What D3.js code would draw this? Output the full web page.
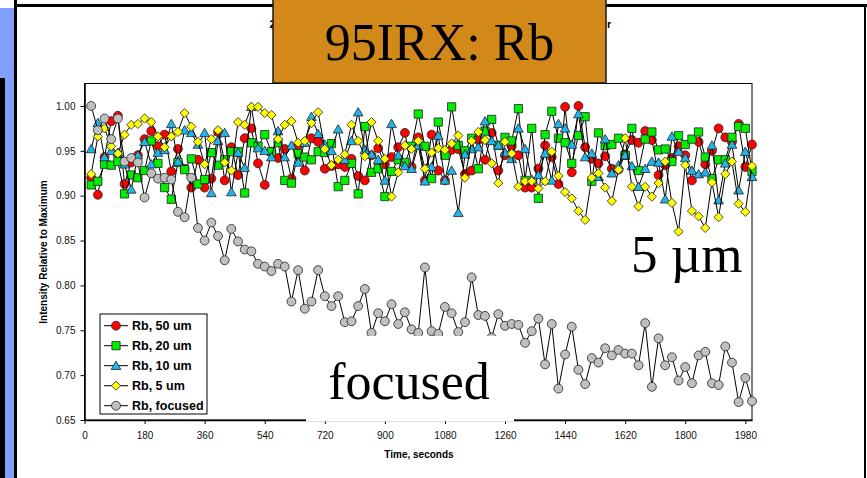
<!DOCTYPE html>
<html lang="en">
<head>
<meta charset="UTF-8">
<title>95IRX: Rb</title>
<script src="https://cdn.jsdelivr.net/npm/d3@7"></script>
<style>
    body { margin: 0; background: #fff; }
    svg { display: block; }
    .tick text { font-family: Arial, "Liberation Sans", sans-serif; font-size: 10px; fill: #111; }
</style>
</head>
<body>

<div id="chart"></div>

<script>

    // Sample times (seconds)
    var time = [
        20, 40, 60, 80, 100, 120, 140, 160, 180, 200,
        220, 240, 260, 280, 300, 320, 340, 360, 380, 400,
        420, 440, 460, 480, 500, 520, 540, 560, 580, 600,
        620, 640, 660, 680, 700, 720, 740, 760, 780, 800,
        820, 840, 860, 880, 900, 920, 940, 960, 980, 1000,
        1020, 1040, 1060, 1080, 1100, 1120, 1140, 1160, 1180, 1200,
        1220, 1240, 1260, 1280, 1300, 1320, 1340, 1360, 1380, 1400,
        1420, 1440, 1460, 1480, 1500, 1520, 1540, 1560, 1580, 1600,
        1620, 1640, 1660, 1680, 1700, 1720, 1740, 1760, 1780, 1800,
        1820, 1840, 1860, 1880, 1900, 1920, 1940, 1960, 1980, 2000
    ];

    // Rb, 50 um
    var rb50 = [
        0.920, 0.901, 0.943, 0.983, 0.989, 0.913, 0.937, 0.945, 0.963, 0.972,
        0.955, 0.968, 0.927, 0.952, 0.930, 0.909, 0.940, 0.909, 0.919, 0.971,
        0.917, 0.954, 0.923, 0.964, 0.975, 0.936, 0.912, 0.949, 0.942, 0.952,
        0.919, 0.956, 0.928, 0.964, 0.960, 0.930, 0.933, 0.935, 0.932, 0.941,
        0.922, 0.917, 0.945, 0.953, 0.935, 0.943, 0.954, 0.970, 0.932, 0.965,
        0.917, 0.968, 0.928, 0.917, 0.951, 0.952, 0.924, 0.928, 0.962, 0.940,
        0.970, 0.928, 0.945, 0.955, 0.945, 0.909, 0.909, 0.930, 0.956, 0.943,
        0.913, 0.999, 0.926, 1.000, 0.954, 0.941, 0.936, 0.944, 0.930, 0.929,
        0.946, 0.962, 0.959, 0.972, 0.962, 0.923, 0.934, 0.942, 0.955, 0.945,
        0.917, 0.960, 0.935, 0.950, 0.975, 0.965, 0.960, 0.980, 0.932, 0.957
    ];

    // Rb, 20 um
    var rb20 = [
        0.912, 0.916, 0.935, 0.934, 0.938, 0.902, 0.923, 0.920, 0.928, 0.961,
        0.936, 0.909, 0.896, 0.937, 0.929, 0.941, 0.913, 0.918, 0.948, 0.934,
        0.940, 0.949, 0.949, 0.903, 0.959, 0.955, 0.968, 0.949, 0.959, 0.917,
        0.914, 0.947, 0.943, 0.940, 0.949, 0.948, 0.958, 0.910, 0.917, 0.936,
        0.902, 0.977, 0.926, 0.930, 0.899, 0.927, 0.940, 0.937, 0.955, 0.991,
        0.955, 0.919, 0.982, 0.945, 0.999, 0.956, 0.950, 0.964, 0.930, 0.972,
        0.985, 0.956, 0.965, 0.961, 0.997, 0.917, 0.975, 0.897, 0.968, 0.994,
        0.964, 0.959, 0.936, 0.967, 0.988, 0.916, 0.970, 0.956, 0.957, 0.964,
        0.945, 0.975, 0.928, 0.963, 0.971, 0.951, 0.952, 0.938, 0.967, 0.957,
        0.963, 0.971, 0.943, 0.919, 0.940, 0.940, 0.965, 0.977, 0.975, 0.927
    ];

    // Rb, 10 um
    var rb10 = [
        0.952, 0.981, 0.943, 0.950, 0.948, 0.935, 0.907, 0.945, 0.960, 0.935,
        0.948, 0.951, 0.980, 0.938, 0.973, 0.970, 0.957, 0.970, 0.903, 0.961,
        0.970, 0.904, 0.948, 0.931, 0.999, 0.953, 0.950, 0.943, 0.972, 0.943,
        0.956, 0.937, 0.959, 0.988, 0.969, 0.957, 0.950, 0.974, 0.940, 0.961,
        0.993, 0.951, 0.946, 0.940, 0.917, 0.980, 0.945, 0.933, 0.930, 0.956,
        0.916, 0.932, 0.967, 0.917, 0.928, 0.881, 0.946, 0.952, 0.954, 0.983,
        0.961, 0.956, 0.948, 0.941, 0.975, 0.952, 0.918, 0.923, 0.947, 0.917,
        0.980, 0.975, 0.957, 0.991, 0.943, 0.947, 0.921, 0.963, 0.925, 0.934,
        0.945, 0.933, 0.910, 0.930, 0.938, 0.937, 0.896, 0.966, 0.949, 0.942,
        0.928, 0.924, 0.926, 0.956, 0.895, 0.936, 0.957, 0.906, 0.949, 0.921
    ];

    // Rb, 5 um
    var rb5 = [
        0.924, 0.966, 0.975, 0.955, 0.947, 0.968, 0.979, 0.980, 0.986, 0.982,
        0.966, 0.954, 0.966, 0.971, 0.992, 0.977, 0.960, 0.935, 0.963, 0.973,
        0.937, 0.928, 0.982, 0.979, 0.999, 0.999, 0.992, 0.990, 0.963, 0.979,
        0.983, 0.959, 0.961, 0.981, 0.993, 0.952, 0.934, 0.940, 0.946, 0.979,
        0.961, 0.944, 0.982, 0.961, 0.941, 0.899, 0.926, 0.956, 0.952, 0.961,
        0.930, 0.948, 0.953, 0.951, 0.958, 0.967, 0.920, 0.961, 0.971, 0.962,
        0.936, 0.914, 0.960, 0.947, 0.910, 0.916, 0.916, 0.908, 0.916, 0.949,
        0.922, 0.904, 0.897, 0.883, 0.873, 0.920, 0.925, 0.909, 0.894, 0.929,
        0.964, 0.910, 0.888, 0.910, 0.899, 0.914, 0.938, 0.892, 0.860, 0.934,
        0.883, 0.877, 0.864, 0.915, 0.876, 0.924, 0.938, 0.891, 0.882, 0.933
    ];

    // Rb, focused
    var rbFocused = [
        1.000, 0.973, 0.986, 0.963, 0.986, 0.938, 0.942, 0.937, 0.898, 0.925,
        0.919, 0.920, 0.918, 0.882, 0.876, 0.920, 0.864, 0.850, 0.870, 0.855,
        0.828, 0.863, 0.849, 0.840, 0.838, 0.824, 0.821, 0.816, 0.824, 0.821,
        0.782, 0.817, 0.774, 0.782, 0.817, 0.788, 0.777, 0.788, 0.759, 0.760,
        0.777, 0.796, 0.747, 0.769, 0.760, 0.779, 0.757, 0.770, 0.751, 0.747,
        0.820, 0.749, 0.746, 0.776, 0.769, 0.748, 0.759, 0.809, 0.767, 0.766,
        0.742, 0.768, 0.755, 0.757, 0.756, 0.736, 0.749, 0.763, 0.712, 0.757,
        0.685, 0.723, 0.754, 0.706, 0.690, 0.719, 0.714, 0.730, 0.722, 0.728,
        0.724, 0.724, 0.711, 0.758, 0.687, 0.741, 0.711, 0.720, 0.694, 0.709,
        0.691, 0.722, 0.726, 0.691, 0.689, 0.732, 0.714, 0.670, 0.697, 0.671
    ];

    var seriesNames = ["Rb, 50 um", "Rb, 20 um", "Rb, 10 um", "Rb, 5 um", "Rb, focused"];
    var xTicks = [0, 180, 360, 540, 720, 900, 1080, 1260, 1440, 1620, 1800, 1980];
    var yTicks = [0.65, 0.70, 0.75, 0.80, 0.85, 0.90, 0.95, 1.00];

    // Dimensions
    var width = 867;
    var height = 478;
    var sansFont = "Arial, 'Liberation Sans', sans-serif";
    var serifFont = "'Times New Roman', 'Liberation Serif', serif";

    var svg = d3.select("#chart")
        .append("svg")
        .attr("width", width)
        .attr("height", height);

    // Slide decoration (left bar, top rule, right rule)
    svg.append("rect").attr("x", 0).attr("y", 8).attr("width", 14).attr("height", height - 8).attr("fill", "#819fff");
    svg.append("rect").attr("x", 0).attr("y", 78).attr("width", 5).attr("height", height - 78).attr("fill", "#000");
    svg.append("rect").attr("x", 14).attr("y", 0).attr("width", 3).attr("height", height).attr("fill", "#000");
    svg.append("rect").attr("x", 14).attr("y", 4).attr("width", width - 14).attr("height", 3).attr("fill", "#000");
    svg.append("rect").attr("x", 864).attr("y", 4).attr("width", 2).attr("height", height - 4).attr("fill", "#000");

    // Chart title (mostly hidden by the orange banner)
    svg.append("text").attr("x", 269.5).attr("y", 28).text("2")
        .attr("font-family", sansFont).attr("font-size", 11).attr("font-weight", "bold");
    svg.append("text").attr("x", 607).attr("y", 28).text("r")
        .attr("font-family", sansFont).attr("font-size", 11).attr("font-weight", "bold");

    // Scales
    var x = d3.scaleLinear().domain([0, 2000]).range([84.5, 752]);
    var y = d3.scaleLinear().domain([0.65, 1.025]).range([420, 83.5]);

    // Plot frame
    svg.append("rect")
        .attr("x", x(0))
        .attr("y", y(1.025))
        .attr("width", x(2000) - x(0))
        .attr("height", y(0.65) - y(1.025))
        .attr("fill", "none")
        .attr("stroke", "#000")
        .attr("stroke-width", 1);

    // Marker shapes
    var triangleUp = {
        draw: function (ctx, size) {
            var r = Math.sqrt(size) / 2;
            ctx.moveTo(0, -r * 1.05);
            ctx.lineTo(r * 1.1, r * 0.85);
            ctx.lineTo(-r * 1.1, r * 0.85);
            ctx.closePath();
        }
    };
    var diamond = {
        draw: function (ctx, size) {
            var r = Math.sqrt(size) / 2;
            ctx.moveTo(0, -r);
            ctx.lineTo(r, 0);
            ctx.lineTo(0, r);
            ctx.lineTo(-r, 0);
            ctx.closePath();
        }
    };

    var series = [
        { name: seriesNames[0], values: rb50, color: "#ff0000", symbol: d3.symbolCircle, size: 62 },
        { name: seriesNames[1], values: rb20, color: "#00ee00", symbol: d3.symbolSquare, size: 68 },
        { name: seriesNames[2], values: rb10, color: "#1fb6ee", symbol: triangleUp, size: 78 },
        { name: seriesNames[3], values: rb5, color: "#ffff00", symbol: diamond, size: 84 },
        { name: seriesNames[4], values: rbFocused, color: "#c0c0c0", symbol: d3.symbolCircle, size: 62 }
    ];

    var line = d3.line()
        .x(function (d, i) { return x(time[i]); })
        .y(function (d) { return y(d); });

    var plot = svg.append("g");

    series.forEach(function (s) {
        var g = plot.append("g");

        // connecting line
        g.append("path")
            .datum(s.values)
            .attr("d", line)
            .attr("fill", "none")
            .attr("stroke", "#000")
            .attr("stroke-width", 1);

        // markers
        g.selectAll("path.marker")
            .data(s.values)
            .enter()
            .append("path")
            .attr("class", "marker")
            .attr("transform", function (d, i) { return "translate(" + x(time[i]) + "," + y(d) + ")"; })
            .attr("d", d3.symbol().type(s.symbol).size(s.size))
            .attr("fill", s.color)
            .attr("stroke", "#222")
            .attr("stroke-width", 0.8);
    });

    // Axes
    var xAxis = svg.append("g")
        .attr("transform", "translate(0," + y(0.65) + ")")
        .call(d3.axisBottom(x).tickValues(xTicks).tickSize(4).tickSizeOuter(0).tickPadding(8).tickFormat(d3.format("d")));
    xAxis.select(".domain").attr("stroke-width", 1.6);

    var yAxis = svg.append("g")
        .attr("transform", "translate(" + x(0) + ",0)")
        .call(d3.axisLeft(y).tickValues(yTicks).tickSize(4).tickSizeOuter(0).tickPadding(5).tickFormat(d3.format(".2f")));
    yAxis.select(".domain").attr("stroke-width", 1.6);

    svg.selectAll(".tick text").attr("font-family", null).attr("font-size", null);

    // Axis titles
    svg.append("text")
        .attr("x", 419)
        .attr("y", 458)
        .attr("text-anchor", "middle")
        .attr("font-family", sansFont)
        .attr("font-size", 10)
        .attr("font-weight", "bold")
        .text("Time, seconds");

    svg.append("text")
        .attr("transform", "translate(47," + 252 + ") rotate(-90)")
        .attr("text-anchor", "middle")
        .attr("font-family", sansFont)
        .attr("font-size", 10)
        .attr("font-weight", "bold")
        .text("Intensity Relative to Maximum");

    // Legend
    var legend = svg.append("g").attr("transform", "translate(100,314)");
    legend.append("rect")
        .attr("width", 107)
        .attr("height", 100)
        .attr("fill", "#fff")
        .attr("stroke", "#000")
        .attr("stroke-width", 1);

    var item = legend.selectAll("g.item")
        .data(series)
        .enter()
        .append("g")
        .attr("class", "item")
        .attr("transform", function (d, i) { return "translate(0," + (11.7 + i * 20) + ")"; });

    item.append("line")
        .attr("x1", 4).attr("x2", 28)
        .attr("stroke", "#000").attr("stroke-width", 1);
    item.append("path")
        .attr("transform", "translate(16,0)")
        .attr("d", function (d) { return d3.symbol().type(d.symbol).size(d.size)(); })
        .attr("fill", function (d) { return d.color; })
        .attr("stroke", "#222")
        .attr("stroke-width", 0.8);
    item.append("text")
        .attr("x", 32)
        .attr("dy", "0.36em")
        .attr("font-family", sansFont)
        .attr("font-size", 12.5)
        .attr("font-weight", "bold")
        .text(function (d) { return d.name; });

    // Annotations
    svg.append("rect")
        .attr("x", 306).attr("y", 336)
        .attr("width", 208).attr("height", 85.5)
        .attr("fill", "#fff");
    svg.append("text")
        .attr("x", 409).attr("y", 399)
        .attr("text-anchor", "middle")
        .attr("font-family", serifFont)
        .attr("font-size", 52)
        .text("focused");
    svg.append("text")
        .attr("x", 631).attr("y", 272)
        .attr("font-family", serifFont)
        .attr("font-size", 53)
        .text("5 \u00b5m");

    // Orange banner
    svg.append("rect")
        .attr("x", 273).attr("y", -2)
        .attr("width", 333).attr("height", 85)
        .attr("fill", "#d2891a")
        .attr("stroke", "#1a1a1a")
        .attr("stroke-width", 1.5);
    svg.append("text")
        .attr("x", 439.5).attr("y", 60)
        .attr("text-anchor", "middle")
        .attr("font-family", serifFont)
        .attr("font-size", 52)
        .text("95IRX: Rb");

</script>

</body>
</html>
